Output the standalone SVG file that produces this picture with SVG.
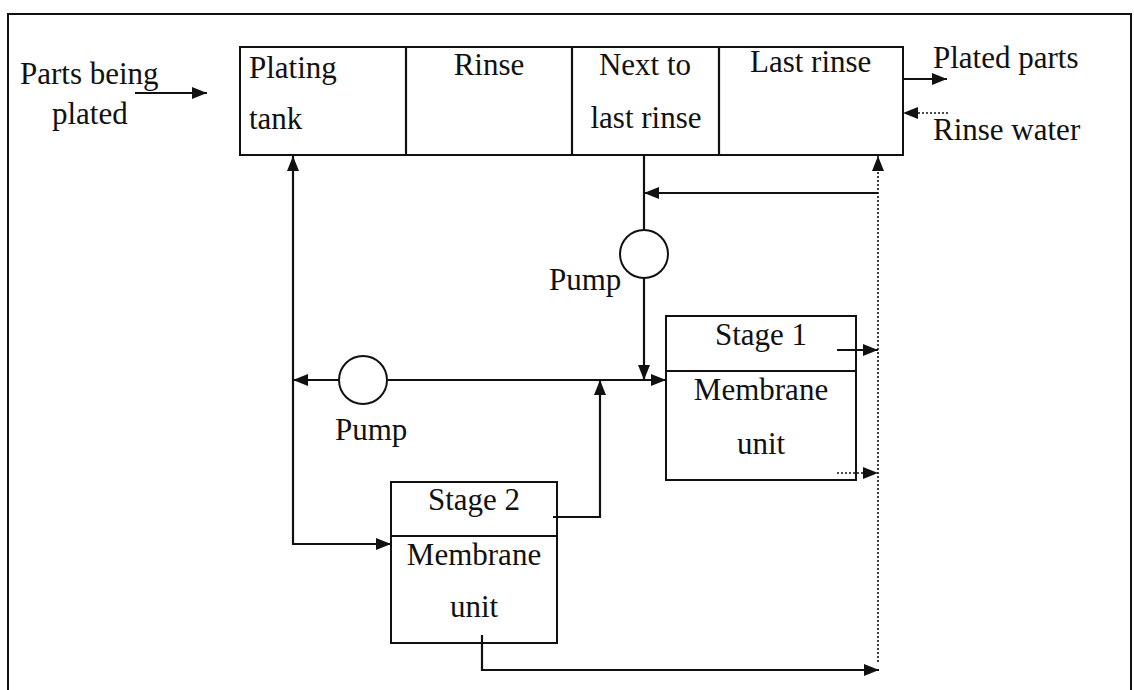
<svg xmlns="http://www.w3.org/2000/svg" width="1134" height="690" viewBox="0 0 1134 690">
<defs>
<marker id="ah" viewBox="0 0 15 12" refX="15" refY="6" markerWidth="15" markerHeight="12" markerUnits="userSpaceOnUse" orient="auto">
<path d="M0,0 L15,6 L0,12 Z" fill="#111"/>
</marker>
</defs>
<style>
.box{fill:#fff;stroke:#111;stroke-width:2}
.ln{fill:none;stroke:#111;stroke-width:2.2}
.dt{fill:none;stroke:#111;stroke-width:1.6;stroke-dasharray:2 2}
text{font-family:"Liberation Serif","Times New Roman",serif;font-size:31px;fill:#111}
.c{text-anchor:middle}
</style>
<rect x="0" y="0" width="1134" height="690" fill="#fff"/>
<rect x="8" y="14" width="1123" height="700" fill="none" stroke="#111" stroke-width="2"/>

<g id="tank">
<rect class="box" x="240" y="47" width="663" height="108"/>
<line class="ln" x1="406" y1="47" x2="406" y2="155"/>
<line class="ln" x1="572" y1="47" x2="572" y2="155"/>
<line class="ln" x1="719" y1="47" x2="719" y2="155"/>
<text x="249" y="78">Plating</text>
<text x="249" y="129">tank</text>
<text class="c" x="489" y="75">Rinse</text>
<text class="c" x="645" y="75">Next to</text>
<text class="c" x="646" y="128">last rinse</text>
<text x="750" y="72">Last rinse</text>
</g>

<g id="labels">
<text x="20" y="84">Parts being</text>
<text x="52" y="124">plated</text>
<text x="933" y="68">Plated parts</text>
<text x="933" y="140">Rinse water</text>
</g>

<g id="pump1">
<circle class="box" cx="644" cy="254" r="24"/>
<text x="549" y="290">Pump</text>
</g>

<g id="pump2">
<circle class="box" cx="363" cy="380" r="24"/>
<text x="335" y="440">Pump</text>
</g>

<g id="stage1">
<rect class="box" x="666" y="316" width="190" height="164"/>
<line class="ln" x1="666" y1="371" x2="856" y2="371"/>
<text class="c" x="761" y="345">Stage 1</text>
<text class="c" x="761" y="400">Membrane</text>
<text class="c" x="761" y="454">unit</text>
</g>

<g id="stage2">
<rect class="box" x="391" y="482" width="166" height="161"/>
<line class="ln" x1="391" y1="536" x2="557" y2="536"/>
<text class="c" x="474" y="510">Stage 2</text>
<text class="c" x="474" y="565">Membrane</text>
<text class="c" x="474" y="617">unit</text>
</g>

<g id="connectors">
<line class="ln" x1="135" y1="93" x2="207" y2="93" marker-end="url(#ah)"/>
<line class="ln" x1="903" y1="79" x2="947" y2="79" marker-end="url(#ah)"/>
<line class="dt" x1="948" y1="113" x2="903" y2="113" marker-end="url(#ah)"/>
<line class="dt" x1="878" y1="662" x2="878" y2="156" marker-end="url(#ah)"/>
<line class="ln" x1="878" y1="193" x2="644" y2="193" marker-end="url(#ah)"/>
<line class="ln" x1="644" y1="155" x2="644" y2="230"/>
<line class="ln" x1="644" y1="278" x2="644" y2="380" marker-end="url(#ah)"/>
<line class="ln" x1="387" y1="380" x2="666" y2="380" marker-end="url(#ah)"/>
<line class="ln" x1="339" y1="380" x2="293" y2="380" marker-end="url(#ah)"/>
<line class="ln" x1="293" y1="545" x2="293" y2="156" marker-end="url(#ah)"/>
<polyline class="ln" points="293,544 391,544" marker-end="url(#ah)"/>
<polyline class="ln" points="553,517 600,517 600,380" marker-end="url(#ah)"/>
<line class="ln" x1="837" y1="350" x2="878" y2="350" marker-end="url(#ah)"/>
<line class="dt" x1="837" y1="473" x2="878" y2="473" marker-end="url(#ah)"/>
<polyline class="ln" points="482,635 482,670 879,670" marker-end="url(#ah)"/>
</g>
</svg>
